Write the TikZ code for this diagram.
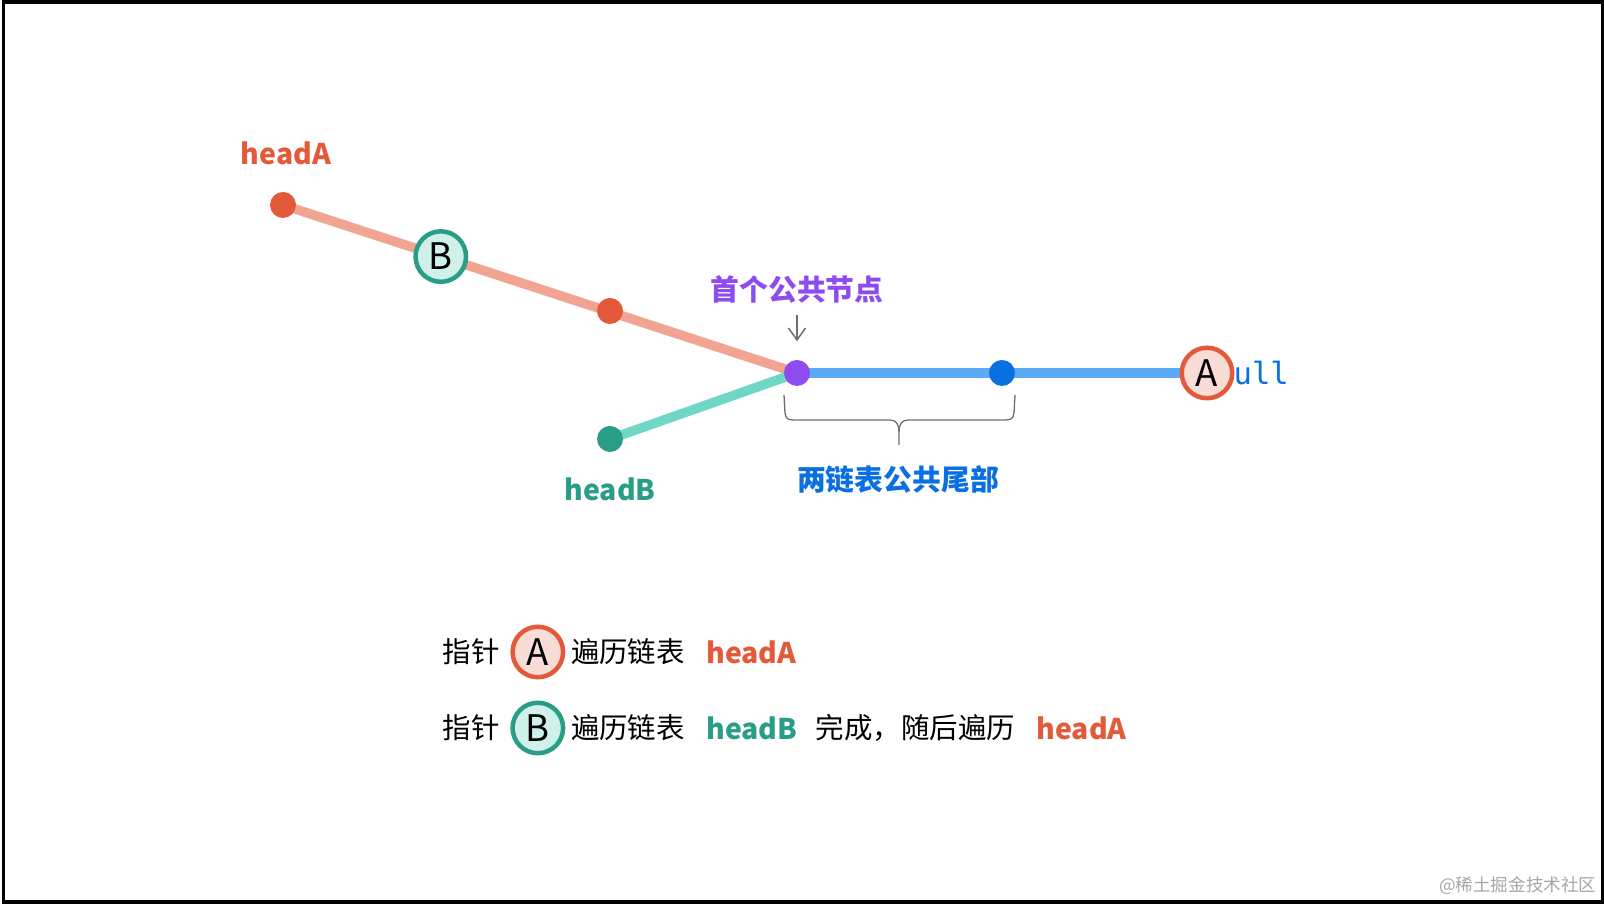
\documentclass[tikz,border=0pt]{standalone}
\usepackage{fontspec}
\setmainfont{Noto Sans CJK SC}
\newfontfamily\codefont{DejaVu Sans Mono}
\usepackage{xcolor}
\definecolor{lkred}{RGB}{226,90,58}
\definecolor{lksalmon}{RGB}{240,164,145}
\definecolor{lkredfill}{RGB}{250,220,214}
\definecolor{lkteal}{RGB}{42,157,135}
\definecolor{lkmint}{RGB}{110,216,196}
\definecolor{lktealfill}{RGB}{208,240,234}
\definecolor{lkpurple}{RGB}{142,76,240}
\definecolor{lkblue}{RGB}{10,112,226}
\definecolor{lksky}{RGB}{90,170,245}
\definecolor{lkgray}{RGB}{110,110,110}
\usepackage{tikz}
\usetikzlibrary{arrows.meta, positioning, calc}
\pgfdeclarelayer{background}
\pgfsetlayers{background,main}

\tikzset{
  listdot/.style={circle, fill=#1, inner sep=0pt, minimum size=0.26cm},
  link/.style={draw=#1, line width=0.095cm},
  ptr/.style={circle, draw=#1, line width=0.045cm, inner sep=0pt,
              minimum size=0.505cm, font=\fontsize{10.4pt}{12pt}\selectfont},
  headlbl/.style={inner sep=0pt, font=\fontsize{8.1pt}{10pt}\selectfont\bfseries},
  cjklbl/.style={inner sep=0pt, font=\fontsize{8.2pt}{10pt}\selectfont\bfseries},
  legtxt/.style={inner sep=0pt, font=\fontsize{8.1pt}{10pt}\selectfont},
}

\begin{document}
\begin{tikzpicture}
\useasboundingbox (0,0) rectangle (16.04,9.04);
\draw[line width=0.035cm] (0.035,0.02) rectangle (16.025,9.02);

% === list nodes ===
\node[listdot=lkred] (a1) at (2.83,6.99) {};
\node[listdot=lkred] (a2) at (6.10,5.93) {};
\node[listdot=lkpurple] (x) at (7.97,5.31) {};
\node[listdot=lkblue] (c1) at (10.02,5.31) {};
\node[listdot=lkteal] (b1) at (6.10,4.65) {};

\node[headlbl, text=lkred] (hA) at (2.86,7.51) {headA};
\node[headlbl, text=lkteal] (hB) at (6.10,4.15) {headB};

% === null and the two pointers ===
\node[inner sep=0pt, text=lkblue, font=\fontsize{8.7pt}{10pt}\selectfont\codefont]
     (nul) at (12.52,5.31) {null};
\node[ptr=lkteal, fill=lktealfill] (pB) at ($(a1)!0.307!(x)$) {B};
\node[ptr=lkred, fill=lkredfill] (pA) at (12.07,5.31) {A};

\begin{pgfonlayer}{background}
\draw[link=lksalmon] (a1.center) -- (x.center);
\draw[link=lkmint] (b1.center) -- (x.center);
\draw[link=lksky] (x.center) -- (pA.center);
\end{pgfonlayer}

% === first common node ===
\node[cjklbl, text=lkpurple] (first) at (7.97,6.14) {首个公共节点};
\draw[lkgray, line width=0.015cm, -{Straight Barb[length=0.12cm, width=0.17cm]},
      shorten <=0.1cm, shorten >=0.18cm] (first) -- (x);

% === common tail ===
\coordinate (br1) at (7.84,5.09);
\coordinate (br2) at (10.15,5.09);
\coordinate (brtip) at (8.99,4.59);
\draw[lkgray, line width=0.013cm]
  (br1) -- (7.85,4.91) .. controls (7.86,4.85) and (7.88,4.84) .. (7.94,4.84)
  -- (8.90,4.84) .. controls (8.96,4.84) and (8.99,4.80) .. (8.99,4.72) -- (brtip);
\draw[lkgray, line width=0.013cm]
  (br2) -- (10.14,4.91) .. controls (10.13,4.85) and (10.11,4.84) .. (10.05,4.84)
  -- (9.08,4.84) .. controls (9.02,4.84) and (8.99,4.80) .. (8.99,4.72);
\node[cjklbl, text=lkblue] (tail) at (8.98,4.25) {两链表公共尾部};

% === legend ===
\node[legtxt, anchor=west] (l1a) at (4.42,2.52) {指针};
\node[ptr=lkred, fill=lkredfill, right=0.1cm of l1a] (l1p) {A};
\node[legtxt, right=0.05cm of l1p] (l1b) {遍历链表};
\node[headlbl, text=lkred, right=0.2cm of l1b] (l1c) {headA};

\node[legtxt, anchor=west] (l2a) at (4.42,1.76) {指针};
\node[ptr=lkteal, fill=lktealfill, right=0.1cm of l2a] (l2p) {B};
\node[legtxt, right=0.05cm of l2p] (l2b) {遍历链表};
\node[headlbl, text=lkteal, right=0.2cm of l2b] (l2c) {headB};
\node[legtxt, right=0.17cm of l2c] (l2d) {完成，随后遍历};
\node[headlbl, text=lkred, right=0.2cm of l2d] (l2e) {headA};

\node[anchor=east, inner sep=0pt, text=gray!70, font=\fontsize{5.0pt}{6pt}\selectfont]
     (mark) at (15.97,0.18) {@稀土掘金技术社区};

\end{tikzpicture}
\end{document}
